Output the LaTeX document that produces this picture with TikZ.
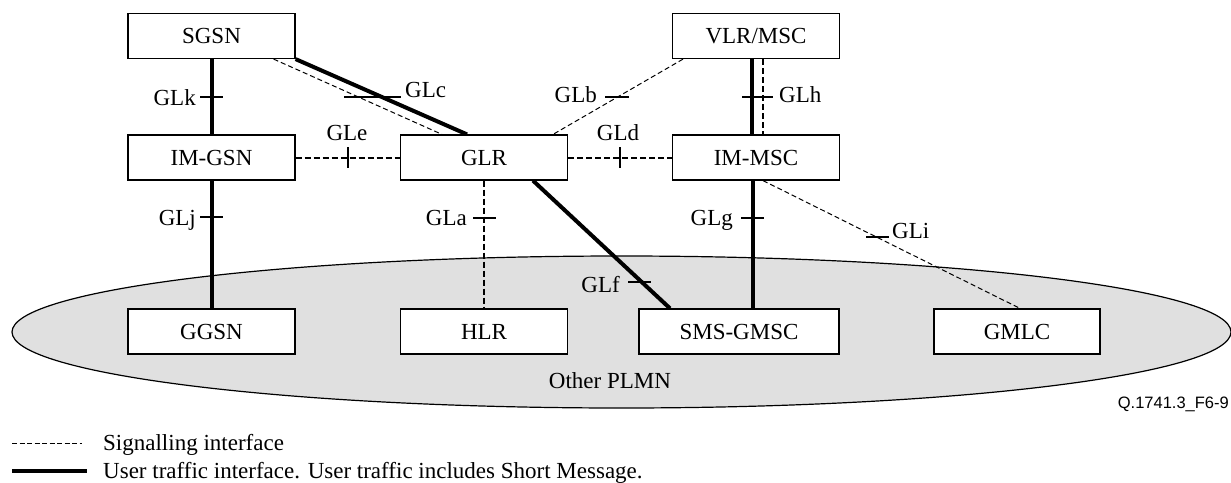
\documentclass[tikz,border=0pt]{standalone}
\usepackage{fontspec}
\setmainfont{Liberation Serif}
\newfontfamily\arialf{Liberation Sans}
\definecolor{plmn}{HTML}{E0E0E0}
\pgfdeclarelayer{background}
\pgfsetlayers{background,main}
\begin{document}
\begin{tikzpicture}[x=1pt,y=-1pt,
  box/.style={draw=black,line width=1.2pt,fill=white,minimum width=167pt,minimum height=45pt,inner sep=0pt,font=\fontsize{23}{27}\selectfont},
  lbl/.style={inner sep=0pt,font=\fontsize{23}{27}\selectfont},
  user/.style={line width=4pt},
  sig/.style={line width=2pt,dash pattern=on 6pt off 3pt},
  sigthin/.style={line width=1pt,dash pattern=on 5pt off 3pt},
  tickmark/.style={line width=2pt}]
\useasboundingbox (0,0) rectangle (1231,482);
\clip (0,0) rectangle (1231,482);
% boxes
\node[box] (sgsn)  at (211.5,36)    {SGSN};
\node[box] (imgsn) at (211.5,157.5) {IM-GSN};
\node[box] (glr)   at (484,157.5)   {GLR};
\node[box] (vlr)   at (756,36)      {VLR/MSC};
\node[box] (immsc) at (756,157.5)   {IM-MSC};
\node[box] (ggsn)  at (211.5,331.5) {GGSN};
\node[box] (hlr)   at (484,331.5)   {HLR};
\node[box,minimum width=200pt] (smsgmsc) at (739,331.5) {SMS-GMSC};
\node[box,minimum width=166pt] (gmlc) at (1017,331.5) {GMLC};
\begin{pgfonlayer}{background}
\draw[line width=1.2pt,fill=plmn] (621.5,332) ellipse [x radius=609.5pt, y radius=76pt];
\draw[user] (sgsn) -- (imgsn);
\draw[user] (imgsn) -- (ggsn);
\draw[user] (sgsn.south east) -- ([xshift=-17pt]glr.north);
\draw[sigthin] ([xshift=-22pt]sgsn.south east) -- ([xshift=-42pt]glr.north);
\draw[sig] (imgsn) -- (glr);
\draw[sig] (glr) -- (immsc);
\draw[sigthin] ([xshift=-73pt]vlr.south) -- ([xshift=69pt]glr.north);
\draw[user] ([xshift=-4pt]vlr.south) -- ([xshift=-4pt]immsc.north);
\draw[sig] ([xshift=7pt]vlr.south) -- ([xshift=7pt]immsc.north);
\draw[sig] (glr) -- (hlr);
\draw[user] ([xshift=49pt]glr.south) -- ([xshift=-69pt]smsgmsc.north);
\draw[user] ([xshift=-3pt]immsc.south) -- ([xshift=14pt]smsgmsc.north);
\draw[sigthin] ([xshift=7pt]immsc.south) -- ([xshift=3pt]gmlc.north);
\end{pgfonlayer}
% ticks
\draw[tickmark] (200,97) -- (223,97);
\draw[tickmark] (200,217) -- (223,217);
\draw[tickmark] (344,97) -- (401,97);
\draw[tickmark] (348,147) -- (348,168);
\draw[tickmark] (605,97) -- (629,97);
\draw[tickmark] (742,97) -- (773,97);
\draw[tickmark] (620,147) -- (620,168);
\draw[tickmark] (473,218) -- (496,218);
\draw[tickmark] (741,218) -- (764,218);
\draw[tickmark] (866,237) -- (889,237);
\draw[tickmark] (628,282) -- (651,282);
% labels
\node[lbl,anchor=base east] (lk) at (196,105) {GLk};
\node[lbl,anchor=base east] (lj) at (196,225) {GLj};
\node[lbl,anchor=base west] (lc) at (405,97) {GLc};
\node[lbl,anchor=base] (le) at (347,140) {GLe};
\node[lbl,anchor=base east] (lb) at (597,102) {GLb};
\node[lbl,anchor=base west] (lh) at (779,102) {GLh};
\node[lbl,anchor=base] (ld) at (618,140) {GLd};
\node[lbl,anchor=base east] (la) at (467,225) {GLa};
\node[lbl,anchor=base east] (lg) at (733,225) {GLg};
\node[lbl,anchor=base west] (li) at (892,238) {GLi};
\node[lbl,anchor=base east] (lf) at (620,292) {GLf};
\node[lbl,anchor=base] (plmnlbl) at (610,388) {Other PLMN};
\node[anchor=base east,inner sep=0pt,font=\arialf\fontsize{16.5}{19}\selectfont] (fig) at (1229,408) {Q.1741.3\_F6-9};
% legend
\coordinate (ls1) at (12,443);
\coordinate (ls2) at (82,443);
\coordinate (lu1) at (12,471);
\coordinate (lu2) at (87,471);
\draw[line width=1pt,dash pattern=on 5pt off 2.5pt] (ls1) -- (ls2);
\draw[user] (lu1) -- (lu2);
\node[lbl,anchor=base west] (legs) at (103,450) {Signalling interface};
\node[lbl,anchor=base west] (legu) at (103,478) {User traffic interface. User traffic includes Short Message.};
\end{tikzpicture}
\end{document}
